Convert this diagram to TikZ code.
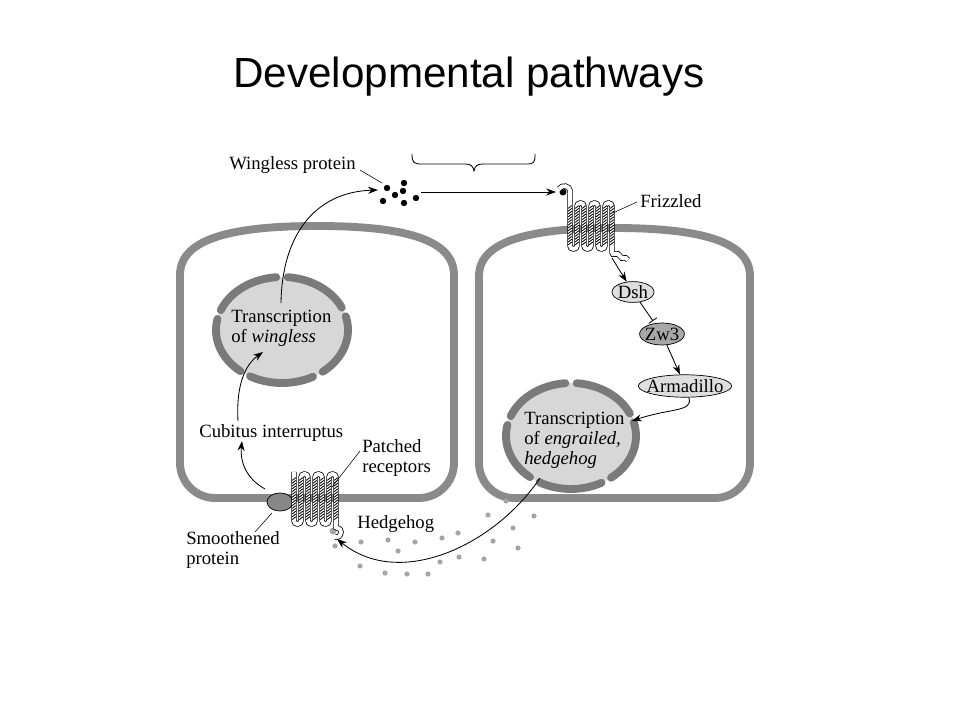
\documentclass[tikz,border=0pt]{standalone}
\usepackage{fontspec}
\setmainfont{Liberation Serif}
\newfontfamily\titlefont{Liberation Sans}
\usetikzlibrary{arrows.meta,shapes.geometric}
\definecolor{membg}{RGB}{138,138,138}
\definecolor{nucb}{RGB}{122,122,122}
\definecolor{nucf}{RGB}{215,215,215}
\definecolor{hhdot}{RGB}{165,165,165}
\definecolor{lightf}{RGB}{222,222,222}
\definecolor{zwf}{RGB}{168,168,168}
\definecolor{smof}{RGB}{135,135,135}
\tikzset{
  membrane/.style={draw=membg, line width=5.6pt, line join=round},
  nucseg/.style={draw=nucb, line width=5.6pt, line cap=round},
  lbl/.style={inner sep=0pt, align=left, anchor=west},
  arr/.style={-{Stealth[length=7pt,width=5pt]}, line width=0.6pt},
  inh/.style={-{Bar[width=7pt]}, line width=0.6pt, shorten >=2pt},
  lead/.style={line width=0.4pt},
  tube/.style={draw=black, line width=0.55pt, double=white, double distance=2.8pt, rounded corners=2.4pt},
  hatch/.style={line width=0.6pt},
  ell/.style={draw, ellipse, inner sep=0pt, line width=0.5pt},
  wdot/.style={fill=black},
  gdot/.style={fill=hhdot}
}
\begin{document}
\begin{tikzpicture}[x=0.025cm, y=-0.025cm, font=\fontsize{13.3}{14.2}\selectfont]
\useasboundingbox (0,0) rectangle (960,720);
\fill[white] (0,0) rectangle (960,720);

% title
\node[font=\fontsize{30}{36}\titlefont, inner sep=0pt, anchor=base] (title) at (469,88) {Developmental pathways};

% cells
\draw[membrane] (454,275) -- (454,463) arc[start angle=0, end angle=90, radius=35] -- (215,498)
  arc[start angle=90, end angle=180, radius=35] -- (180,275)
  .. controls (180,238) and (234,226) .. (317,226) .. controls (400,226) and (454,238) .. (454,275) -- cycle;
\draw[membrane] (750,276) -- (750,463) arc[start angle=0, end angle=90, radius=35] -- (514,498)
  arc[start angle=90, end angle=180, radius=35] -- (479,276)
  .. controls (479,240) and (533,228) .. (614,228) .. controls (696,228) and (750,240) .. (750,276) -- cycle;

% nuclei
\fill[nucf] (282,330) ellipse [x radius=66, y radius=53];
\foreach \a/\b in {-158/-95,-85/-25,-15/52,62/119,129/192}
  \draw[nucseg] (282,330) ++(\a:66 and 53) arc[start angle=\a, end angle=\b, x radius=66, y radius=53];
\fill[nucf] (571,436) ellipse [x radius=65, y radius=53];
\foreach \a/\b in {-158/-95,-85/-25,-15/52,62/119,129/192}
  \draw[nucseg] (571,436) ++(\a:65 and 53) arc[start angle=\a, end angle=\b, x radius=65, y radius=53];

% Wingless protein dots
\foreach \p in {(387,188),(404,183),(403,191),(395,195),(383,201),(404,203),(416,198)}
  \fill[wdot] \p circle [radius=3.2];
\coordinate (wgdots) at (398,193);

% Hedgehog dots
\foreach \p in {(506,501),(488,515),(534,516),(513,528),(458,533),(442,538),(493,541),(518,548),(415,542),(388,540),(361,542),(335,546),(398,551),(440,562),(459,557),(484,559),(360,566),(385,573),(407,574),(428,574)}
  \fill[gdot] \p circle [radius=2.6];

% brace
\draw[line width=0.6pt] (412,154) .. controls (412,163) and (414,164) .. (422,164) -- (465,164)
  .. controls (471,164) and (473,166) .. (474,171) .. controls (475,166) and (477,164) .. (483,164)
  -- (526,164) .. controls (534,164) and (535,163) .. (535,154);

% Frizzled receptor
\fill[wdot] (563,192) circle [radius=3.5];
\begin{scope}[shift={(567,203)}]
  \draw[tube] (-8,-14) .. controls (-5,-19) and (3,-17) .. (3,-9) -- (3,46) -- (10,46) -- (10,0) -- (17,0) -- (17,46) -- (24,46) -- (24,0)
    -- (31,0) -- (31,46) -- (38,46) -- (38,0) -- (45,0) -- (45,46) [sharp corners] .. controls (45,54) and (51,48) .. (53,53)
    .. controls (55,58) and (58,52) .. (61,57);
  \foreach \sx in {3,10,...,45}
    \foreach \sy in {4,6.8,...,43}
      \draw[hatch] (\sx-1.8,\sy+1.4) -- (\sx+1.8,\sy-1.4);
\end{scope}

% Patched receptor
\node[ell, fill=smof, minimum width=0.65cm, minimum height=0.45cm] (smo) at (280,502) {};
\fill[gdot] (333,531) circle [radius=3.5];
\begin{scope}[shift={(291,474)}]
  \draw[tube] (3,-2) -- (3,50) -- (10,50) -- (10,0) -- (17,0) -- (17,50) -- (24,50) -- (24,0)
    -- (31,0) -- (31,50) -- (38,50) -- (38,0) -- (45,0) -- (45,50) [sharp corners] .. controls (45,54) and (50,54) .. (50,58)
    .. controls (50,62) and (46,64) .. (44,63);
  \foreach \sx in {3,10,...,45}
    \foreach \sy in {5,7.8,...,46}
      \draw[hatch] (\sx-1.8,\sy+1.4) -- (\sx+1.8,\sy-1.4);
\end{scope}

% signalling molecules (right cell)
\node[ell, fill=lightf, minimum width=1.05cm, minimum height=0.52cm, label={center:Dsh}] (dsh) at (633,292) {};
\node[ell, fill=zwf, minimum width=1.12cm, minimum height=0.55cm, label={center:Zw3}] (zw3) at (662,334) {};
\node[ell, fill=lightf, minimum width=2.33cm, minimum height=0.56cm, label={center:Armadillo}] (arm) at (685,386) {};

% labels
\node[lbl] (wglbl) at (229,165) {Wingless protein};
\node[lbl] (frzlbl) at (640,201) {Frizzled};
\node[lbl] (tr1) at (231,328) {Transcription\\of \textit{wingless}};
\node[lbl] (tr2) at (524,440) {Transcription\\of \textit{engrailed,}\\\textit{hedgehog}};
\node[lbl] (ci) at (199,433) {Cubitus interruptus};
\node[lbl] (ptc) at (362,458) {Patched\\receptors};
\node[lbl] (hh) at (357,524) {Hedgehog};
\node[lbl] (smolbl) at (186,550) {Smoothened\\protein};

% coordinates for connectors
\coordinate (tr1top) at (281,303);
\coordinate (wgin) at (378,190);
\coordinate (wgout) at (421,192);
\coordinate (frzin) at (556,192);
\coordinate (frzout) at (612,258);
\coordinate (nuc2in) at (632,421);
\coordinate (smoout) at (265,489);
\coordinate (cibot) at (242,441);
\coordinate (citop) at (238,421);
\coordinate (nuc1in) at (263,352);
\coordinate (tr2bot) at (540,478);
\coordinate (ptcin) at (337,539);

% arrows
\draw[arr] (tr1top) .. controls (282,235) and (315,192) .. (wgin);
\draw[arr] (wgout) -- (frzin);
\draw[arr] (frzout) -- (dsh);
\draw[inh] (dsh) -- (zw3);
\draw[arr] (zw3) -- (arm);
\draw[arr] (arm.-72) .. controls (694,412) and (670,408) .. (nuc2in);
\draw[arr] (smoout) .. controls (245,478) and (240,460) .. (cibot);
\draw[arr] (citop) .. controls (236,385) and (245,365) .. (nuc1in);
\draw[arr] (tr2bot) .. controls (495,545) and (400,590) .. (ptcin);

% leader lines
\coordinate (wgl1) at (360,170);
\coordinate (wgl2) at (382,183);
\draw[lead] (wgl1) -- (wgl2);
\coordinate (frl1) at (613,213);
\coordinate (frl2) at (637,202);
\draw[lead] (frl1) -- (frl2);
\coordinate (ptl1) at (332,487);
\coordinate (ptl2) at (360,451);
\draw[lead] (ptl1) -- (ptl2);
\coordinate (sml1) at (272,513);
\coordinate (sml2) at (255,532);
\draw[lead] (sml1) -- (sml2);
\end{tikzpicture}
\end{document}
